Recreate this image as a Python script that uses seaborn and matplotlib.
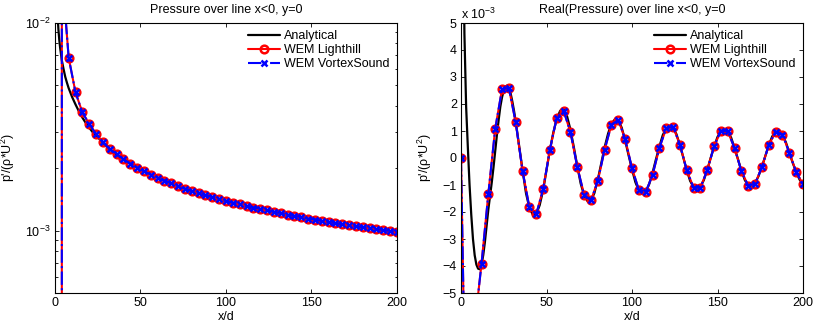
import numpy as np
import pandas as pd
import matplotlib
matplotlib.use("Agg")
import matplotlib.pyplot as plt
import seaborn as sns
from matplotlib.ticker import ScalarFormatter, NullFormatter, LogLocator, MultipleLocator

# ---------------- data (pressure values in units of 1e-3) ----------------
SCALE = 1e-3

# WEM samples (x/d every 4)
wem_x = np.arange(0, 201, 4)
wem_abs = [0.0, 17.9, 6.8, 4.63, 3.71, 3.26, 2.92, 2.66, 2.47, 2.34,
           2.21, 2.10, 2.01, 1.93, 1.86, 1.80, 1.74, 1.69, 1.64, 1.59,
           1.55, 1.52, 1.48, 1.45, 1.42, 1.39, 1.36, 1.34, 1.31, 1.29,
           1.27, 1.25, 1.23, 1.21, 1.19, 1.175, 1.16, 1.14, 1.13, 1.11,
           1.10, 1.085, 1.07, 1.06, 1.05, 1.035, 1.025, 1.015, 1.005, 0.993,
           0.983]
wem_real = [0.0, -14.3, -6.2, -3.92, -1.32, 1.08, 2.55, 2.59, 1.32, -0.48,
            -1.83, -2.08, -1.16, 0.31, 1.50, 1.75, 0.96, -0.33, -1.36, -1.57,
            -0.85, 0.31, 1.24, 1.41, 0.70, -0.38, -1.18, -1.27, -0.63, 0.37,
            1.10, 1.16, 0.50, -0.45, -1.10, -1.10, -0.45, 0.43, 1.01, 0.99,
            0.36, -0.49, -1.03, -0.95, -0.33, 0.48, 0.97, 0.87, 0.20, -0.52,
            -0.97]
lighthill_abs = wem_abs
vortex_abs = wem_abs
lighthill_real = wem_real
vortex_real = wem_real

# Analytical curve, magnitude
ana_abs_x = [0.5, 1, 1.5, 2, 2.5, 3, 4, 5, 6, 7, 8, 10, 12, 14, 16, 18, 20, 22,
             24, 26, 28, 30, 32, 34, 36, 38, 40] + list(range(44, 201, 4))
ana_abs = [45, 16, 11, 9.3, 8.3, 7.6, 6.6, 6.0, 5.5, 5.15, 4.85, 4.4, 4.05,
           3.75, 3.5, 3.3, 3.13, 2.98, 2.87, 2.76, 2.65, 2.55, 2.46, 2.39,
           2.32, 2.26, 2.2,
           2.10, 2.01, 1.93, 1.86, 1.80, 1.74, 1.69, 1.64, 1.59, 1.55,
           1.52, 1.48, 1.45, 1.42, 1.39, 1.36, 1.34, 1.31, 1.29, 1.27,
           1.25, 1.23, 1.21, 1.19, 1.175, 1.16, 1.14, 1.13, 1.11, 1.10,
           1.085, 1.07, 1.06, 1.05, 1.035, 1.025, 1.015, 1.005, 0.993, 0.983]

# Analytical curve, real part
ana_real_x = [0.5, 1, 1.5, 2, 3, 4, 5, 6, 7, 8, 9, 10, 11, 12, 13, 14, 15, 16,
              17, 18, 19, 20, 21, 22, 23, 24, 25, 26, 27, 28, 29, 30, 31, 32,
              33, 34, 35] + list(range(36, 201, 2))
ana_real = [40, 14, 7.5, 4.6, 1.9, 0.4, -1.0, -2.1, -3.0, -3.6, -3.95, -4.1,
            -4.12, -3.95, -3.6, -3.1, -2.5, -1.9, -1.4, -0.9, -0.35, 0.25,
            0.85, 1.4, 1.9, 2.25, 2.5, 2.65, 2.68, 2.6, 2.4, 2.1, 1.75, 1.35,
            0.9, 0.45, 0.0,
            -0.45, -1.3,
            -1.85, -2.1, -2.08, -1.75, -1.2,
            -0.45, 0.3, 0.95, 1.45, 1.75,
            1.8, 1.55, 1.05, 0.4, -0.3,
            -0.95, -1.38, -1.6, -1.58, -1.3,
            -0.8, -0.2, 0.4, 0.9, 1.28,
            1.43, 1.4, 1.12, 0.65, 0.1,
            -0.42, -0.9, -1.2, -1.32, -1.25,
            -0.98, -0.55, -0.05, 0.42, 0.85,
            1.1, 1.18, 1.13, 0.88, 0.48,
            0.02, -0.45, -0.85, -1.08, -1.13,
            -1.07, -0.82, -0.44, 0.0, 0.42,
            0.78, 0.99, 1.05, 0.98, 0.75,
            0.37, -0.05, -0.47, -0.82, -1.02,
            -1.04, -0.93, -0.67, -0.32, 0.08,
            0.48, 0.8, 0.97, 0.98, 0.86,
            0.58, 0.2, -0.18, -0.52, -0.8,
            -0.97]

labels = ["Analytical", "WEM Lighthill", "WEM VortexSound"]
titles = ["Pressure over line x<0, y=0", "Real(Pressure) over line x<0, y=0"]
xticks = [0, 50, 100, 150, 200]
ylabel = "p'/(ρ*U$^2$)"
xlabel = "x/d"

# ---------------- style ----------------
sns.set_style("ticks")
plt.rcParams.update({
    "font.family": ["Liberation Sans", "DejaVu Sans"],
    "font.size": 9,
    "mathtext.default": "regular",
    "axes.linewidth": 0.8,
    "axes.edgecolor": "black",
    "axes.labelcolor": "black",
    "text.color": "black",
    "xtick.color": "black",
    "ytick.color": "black",
    "xtick.direction": "in",
    "ytick.direction": "in",
    "xtick.top": True,
    "ytick.right": True,
    "xtick.major.size": 3,
    "ytick.major.size": 3,
    "xtick.minor.size": 1.8,
    "ytick.minor.size": 1.8,
    "xtick.major.width": 0.6,
    "ytick.major.width": 0.6,
    "ytick.minor.width": 0.6,
    "xtick.labelsize": 9,
    "ytick.labelsize": 9,
})


class MatlabFormatter(ScalarFormatter):
    def get_offset(self):
        if self.orderOfMagnitude == 0:
            return ""
        return r"x 10$^{%d}$" % self.orderOfMagnitude


fig = plt.figure(figsize=(8.2, 3.28), dpi=100)
W, H = 820.0, 328.0
axL = fig.add_axes([55 / W, 1 - 293 / H, 342 / W, 270 / H])
axR = fig.add_axes([461 / W, 1 - 293 / H, 342 / W, 270 / H])


def draw(ax, ax_x, ay, wx, ly, vy):
    sns.lineplot(x=ax_x, y=np.asarray(ay) * SCALE, ax=ax, color="black",
                 lw=1.6, label=labels[0], estimator=None, sort=False)
    sns.lineplot(x=wx, y=np.asarray(ly) * SCALE, ax=ax, color="red", lw=1.5,
                 marker="o", markersize=5.5, markeredgecolor="red",
                 markerfacecolor="none", markeredgewidth=1.8,
                 label=labels[1], estimator=None, sort=False)
    sns.lineplot(x=wx, y=np.asarray(vy) * SCALE, ax=ax, color="blue", lw=1.5,
                 linestyle="-.", marker="x", markersize=4, markeredgecolor="blue",
                 markeredgewidth=1.8, label=labels[2], estimator=None, sort=False)


draw(axL, ana_abs_x, ana_abs, wem_x, lighthill_abs, vortex_abs)
draw(axR, ana_real_x, ana_real, wem_x, lighthill_real, vortex_real)

# left panel: log scale
axL.set_yscale("log")
axL.set_ylim(5e-4, 1e-2)
axL.yaxis.set_minor_locator(LogLocator(base=10, subs=np.arange(2, 10)))
axL.yaxis.set_minor_formatter(NullFormatter())

# right panel: linear scale with x 10^-3
axR.set_ylim(-5e-3, 5e-3)
axR.yaxis.set_major_locator(MultipleLocator(1e-3))
fmt = MatlabFormatter()
fmt.set_powerlimits((0, 0))
axR.yaxis.set_major_formatter(fmt)

for ax, t in zip([axL, axR], titles):
    ax.set_xlim(0, 200)
    ax.set_xticks(xticks)
    ax.set_title(t, fontsize=9, pad=7)
    ax.set_xlabel(xlabel, labelpad=1)
    ax.set_ylabel(ylabel, labelpad=6)
    ax.tick_params(which="both", top=True, right=True, direction="in", pad=3)
    for s in ax.spines.values():
        s.set_visible(True)
        s.set_color("black")
    ax.legend(loc="upper right", frameon=False, fontsize=9, handlelength=2.5,
              handletextpad=0.35, labelspacing=0.15, borderaxespad=0.3,
              borderpad=0.3)

fig.savefig("out.png", dpi=100, facecolor="white")
